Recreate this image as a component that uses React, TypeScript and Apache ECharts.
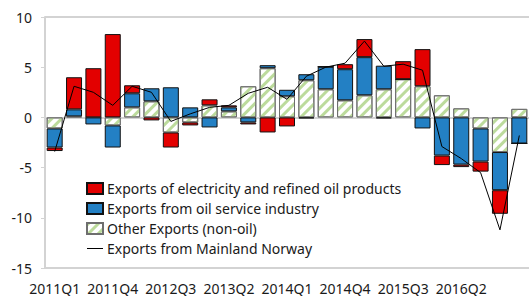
import React, { useEffect, useRef } from "react";
import * as echarts from "echarts";

const categories = [
  "2011Q1", "2011Q2", "2011Q3", "2011Q4",
  "2012Q1", "2012Q2", "2012Q3", "2012Q4",
  "2013Q1", "2013Q2", "2013Q3", "2013Q4",
  "2014Q1", "2014Q2", "2014Q3", "2014Q4",
  "2015Q1", "2015Q2", "2015Q3", "2015Q4",
  "2016Q1", "2016Q2", "2016Q3", "2016Q4",
  "2017Q1",
];

const otherExports = [
  -1.1, 0.1, 0, -0.8,
  1.0, 1.6, -1.5, -0.5,
  1.2, 0.6, 3.1, 4.9,
  2.1, 3.7, 2.8, 1.7,
  2.2, 2.8, 3.8, 3.1,
  2.2, 0.9, -1.1, -3.45,
  0.85,
];

const oilService = [
  -1.9, 0.7, -0.7, -2.2,
  1.4, 1.3, 3.0, 1.0,
  -1.0, 0.4, -0.5, 0.3,
  0.65, 0.6, 2.25, 3.1,
  3.8, 2.35, 0, -1.1,
  -3.8, -4.7, -3.3, -3.8,
  -2.6,
];

const electricityRefined = [
  -0.35, 3.2, 4.9, 8.3,
  0.8, -0.3, -1.5, -0.3,
  0.6, 0.2, -0.2, -1.5,
  -0.9, -0.1, 0, 0.5,
  1.8, -0.1, 1.8, 3.7,
  -0.95, -0.25, -1.0, -2.35,
  0,
];

const mainland = [
  -3.4, 3.1, 2.5, 1.2,
  3.1, 2.5, -0.4, 0.35,
  1.0, 1.2, 2.4, 3.0,
  1.8, 4.1, 5.0, 5.4,
  7.6, 5.1, 5.3, 4.7,
  -2.9, -4.1, -5.5, -11.2,
  -1.8,
];

const yTicks = { min: -15, max: 10, interval: 5 };

const NAME_RED = "Exports of electricity and refined oil products";
const NAME_BLUE = "Exports from oil service industry";
const NAME_GREEN = "Other Exports (non-oil)";
const NAME_LINE = "Exports from Mainland Norway";

const FONT = "Noto Sans";

export default function App() {
  const ref = useRef<HTMLDivElement>(null);

  useEffect(() => {
    if (!ref.current) return;
    const chart = echarts.init(ref.current, undefined, { renderer: "svg" });
    const gridColor = "#d3d3d3";
    chart.setOption({
      animation: false,
      backgroundColor: "#ffffff",
      grid: { left: 45, right: 0, top: 17, bottom: 28, containLabel: false },
      legend: {
        orient: "vertical",
        left: 86,
        top: 181,
        itemWidth: 16,
        itemHeight: 11,
        itemGap: 5,
        padding: 0,
        data: [
          { name: NAME_RED, icon: "rect" },
          { name: NAME_BLUE, icon: "rect" },
          { name: NAME_GREEN, icon: "rect" },
          { name: NAME_LINE, icon: "path://M0,5 L16,5 L16,6 L0,6 Z" },
        ],
        textStyle: { fontFamily: FONT, fontSize: 14, color: "#1a1a1a", lineHeight: 15, padding: [0, 0, 0, -1] },
      },
      xAxis: {
        type: "category",
        data: categories,
        axisLine: { onZero: false, lineStyle: { color: gridColor, width: 2 } },
        axisTick: { show: false },
        axisLabel: {
          interval: (i: number) => i % 3 === 0 && i < 24,
          fontFamily: FONT,
          fontSize: 14,
          color: "#1a1a1a",
          margin: 13,
        },
      },
      yAxis: {
        type: "value",
        min: yTicks.min,
        max: yTicks.max,
        interval: yTicks.interval,
        axisLine: { show: true, lineStyle: { color: gridColor, width: 2 } },
        axisTick: { show: true, length: 4, lineStyle: { color: gridColor, width: 1 } },
        axisLabel: { fontFamily: FONT, fontSize: 14, color: "#1a1a1a", margin: 13 },
        splitLine: {
          show: true,
          lineStyle: {
            color: [gridColor, "transparent", "transparent", gridColor, "transparent", gridColor],
            width: 2,
          },
        },
      },
      series: [
        {
          name: NAME_GREEN,
          type: "bar",
          stack: "exports",
          barWidth: 16,
          data: otherExports,
          itemStyle: {
            color: "#ffffff",
            borderColor: "#6e6e6e",
            borderWidth: 1,
            decal: {
              symbol: "rect",
              symbolSize: 1,
              color: "#bcdb9c",
              dashArrayX: [1, 0],
              dashArrayY: [3, 4],
              rotation: -Math.PI / 4,
            },
          },
        },
        {
          name: NAME_BLUE,
          type: "bar",
          stack: "exports",
          barWidth: 16,
          data: oilService,
          itemStyle: { color: "#2380c4", borderColor: "#111", borderWidth: 1 },
        },
        {
          name: NAME_RED,
          type: "bar",
          stack: "exports",
          barWidth: 16,
          data: electricityRefined,
          itemStyle: { color: "#e30000", borderColor: "#111", borderWidth: 1 },
        },
        {
          name: NAME_LINE,
          type: "line",
          data: mainland,
          symbol: "none",
          z: 5,
          lineStyle: { color: "#000", width: 1 },
          itemStyle: { color: "#000" },
        },
      ],
    });
    return () => chart.dispose();
  }, []);

  return (
    <div
      ref={ref}
      style={{ position: "fixed", left: 0, top: 0, width: 529, height: 296, background: "#fff" }}
    />
  );
}
